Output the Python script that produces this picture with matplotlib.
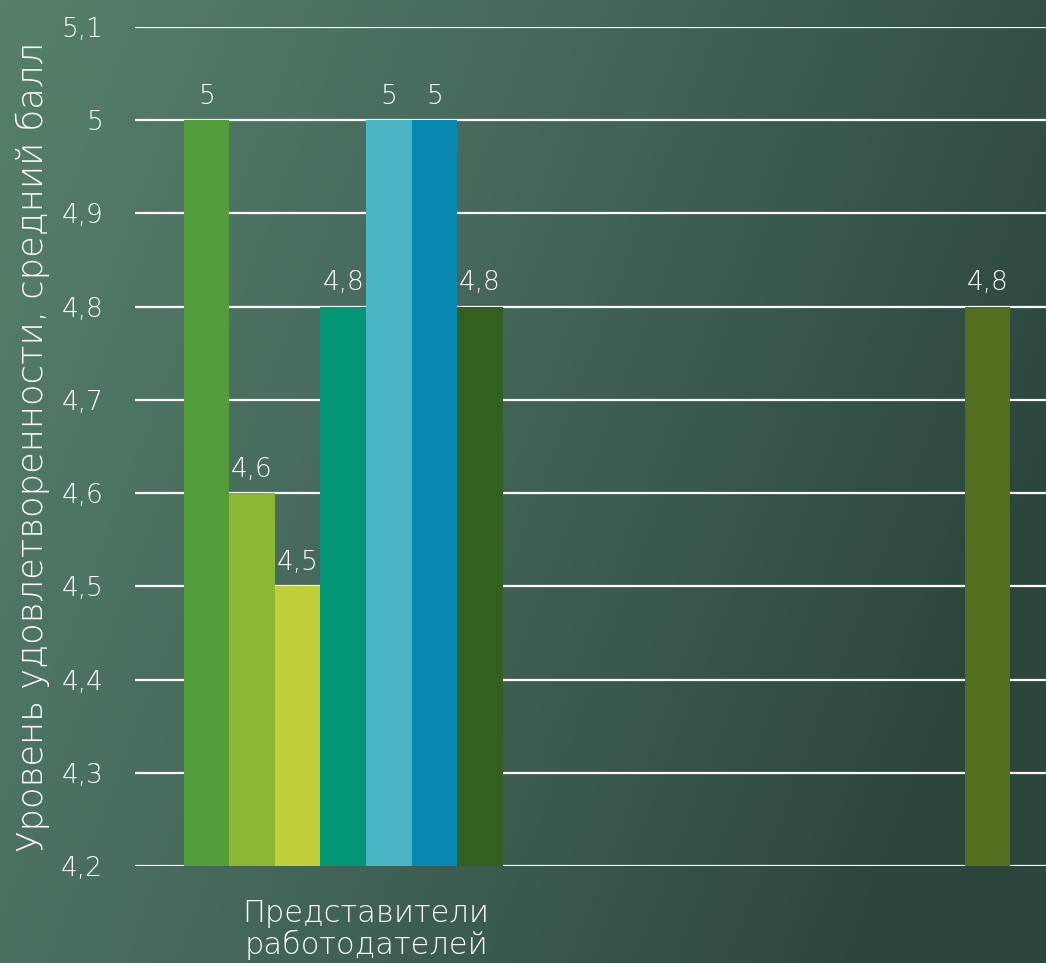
import numpy as np
import matplotlib.pyplot as plt
from matplotlib.colors import LinearSegmentedColormap

plt.rcParams['font.family'] = ['DejaVu Sans']
plt.rcParams['font.weight'] = 'light'
plt.rcParams['axes.labelweight'] = 'light'

# data
categories = ["Представители\nработодателей", ""]
series_vals = [
    [5.0, np.nan],
    [4.6, np.nan],
    [4.5, np.nan],
    [4.8, np.nan],
    [5.0, np.nan],
    [5.0, np.nan],
    [4.8, np.nan],
    [np.nan, 4.8],
]
colors = ["#549E39", "#8AB833", "#C0CF3A", "#029676", "#4AB5C4", "#0989B1", "#32611F", "#546E20"]
yticks = [4.2, 4.3, 4.4, 4.5, 4.6, 4.7, 4.8, 4.9, 5.0, 5.1]

fig = plt.figure(figsize=(10.46, 9.63), dpi=100)

# gradient background
bg = fig.add_axes([0, 0, 1, 1])
gx, gy = np.meshgrid(np.linspace(0, 1, 300), np.linspace(0, 1, 300))
t = np.clip((0.85 * gx + 0.3 * gy) / 1.0, 0, 1)
cmap = LinearSegmentedColormap.from_list("bg", ["#56806A", "#44665A", "#2C463E"])
bg.imshow(t, cmap=cmap, aspect='auto', extent=[0, 1, 0, 1], origin='upper', vmin=0, vmax=1)
bg.axis('off')

ax = fig.add_axes([135/1046, 1 - 866/963, 924/1046, (866 - 27)/963])
ax.patch.set_alpha(0)

x = np.arange(len(categories))
n = len(series_vals)
w = 0.79 / n
for i, vals in enumerate(series_vals):
    pos = x + (i - (n - 1) / 2) * w
    ax.bar(pos, vals, width=w, color=colors[i], zorder=3)
    for p, v in zip(pos, vals):
        if not np.isnan(v):
            ax.text(p, v + 0.012, ("%g" % v).replace(".", ","), ha='center', va='bottom',
                    color='white', fontsize=19, zorder=4)

ax.set_ylim(4.2, 5.1)
ax.set_xlim(-0.5, 1.5)
ax.set_yticks(yticks)
ax.set_yticklabels([("%g" % v).replace(".", ",") for v in yticks])
ax.tick_params(axis='both', length=0, colors='white', labelsize=19)
ax.tick_params(axis='y', pad=23)
ax.tick_params(axis='x', pad=24, labelsize=22)
ax.set_xticks(x)
ax.set_xticklabels(categories, linespacing=1.05)
ax.yaxis.grid(True, color='white', linewidth=1.6)
ax.set_axisbelow(True)
for s in ax.spines.values():
    s.set_visible(False)
ax.set_ylabel("Уровень удовлетворенности, средний балл", color='white', fontsize=25.5, labelpad=8)

fig.savefig("out.png", dpi=100)
